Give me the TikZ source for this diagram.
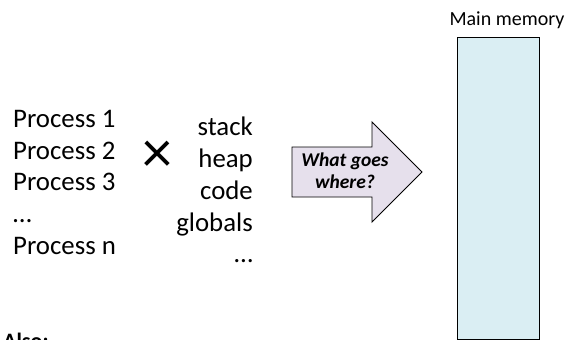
\documentclass[tikz,border=0pt]{standalone}
\usepackage{fontspec}
\setmainfont{Carlito}
\definecolor{memfill}{HTML}{DAEEF3}
\definecolor{arrfill}{HTML}{E6E0EC}
\begin{document}
\begin{tikzpicture}[x=1pt,y=-1pt,
  big/.style={font=\fontsize{26.8}{31.75}\selectfont, inner sep=0pt},
  label/.style={font=\fontsize{20}{24}\selectfont, inner sep=0pt}]
\useasboundingbox (0,0) rectangle (573,340);
% processes
\node[big, align=left, anchor=north west] (procs) at (13,110)
  {Process 1\\Process 2\\Process 3\\…\\Process n};
% times
\node[font=\fontsize{60}{60}\selectfont, inner sep=0pt] (times) at (157,157) {\char"00D7};
% segments
\node[big, align=right, anchor=north east] (segs) at (253,117)
  {stack\\heap\\code\\globals\\…};
% arrow
\draw[fill=arrfill, line width=0.9pt, line join=miter]
  (292,147) -- (372,147) -- (372,122) -- (422,172) -- (372,222) -- (372,197) -- (292,197) -- cycle;
\node[font=\fontsize{19.5}{22}\selectfont\bfseries\itshape, align=center, inner sep=0pt] (what) at (345,171) {What goes\\where?};
% memory
\node[draw, fill=memfill, line width=1.1pt, minimum width=82pt, minimum height=302pt, inner sep=0pt, anchor=north west] (mem) at (457,37) {};
\node[label, anchor=south] (memlbl) at (507,29) {Main memory};
% Also
\node[font=\fontsize{22}{26}\selectfont\bfseries, inner sep=0pt, anchor=north west] (also) at (3,333) {Also:};
\end{tikzpicture}
\end{document}
